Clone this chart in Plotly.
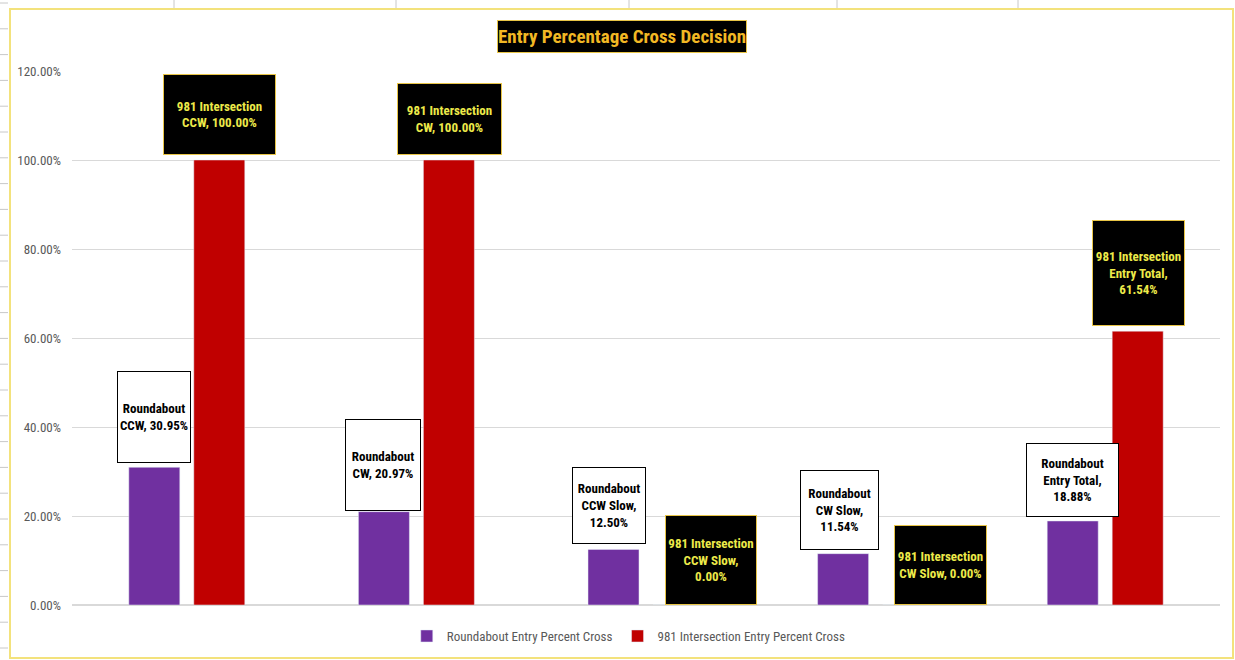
import plotly.graph_objects as go

categories = ["CCW", "CW", "CCW Slow", "CW Slow", "Entry Total"]
roundabout = [0.3095, 0.2097, 0.1250, 0.1154, 0.1888]
intersection = [1.00, 1.00, 0.00, 0.00, 0.6154]
series_names = ["Roundabout Entry Percent Cross", "981 Intersection Entry Percent Cross"]
rb_labels = ["Roundabout<br>CCW, 30.95%", "Roundabout<br>CW, 20.97%", "Roundabout<br>CCW Slow,<br>12.50%",
             "Roundabout<br>CW Slow,<br>11.54%", "Roundabout<br>Entry Total,<br>18.88%"]
ix_labels = ["981 Intersection<br>CCW, 100.00%", "981 Intersection<br>CW, 100.00%",
             "981 Intersection<br>CCW Slow,<br>0.00%", "981 Intersection<br>CW Slow, 0.00%",
             "981 Intersection<br>Entry Total,<br>61.54%"]
y_ticks = [0, 0.2, 0.4, 0.6, 0.8, 1.0, 1.2]

# label box styling/offsets (pixels)
rb_box = [(-33, 4, 74, 92), (-33, 1, 76, 92), (-37, 5, 74, 77), (-36, 4, 79, 80), (-33, 4, 93, 74)]
ix_box = [(33, 5, 113, 81), (33, 5, 105, 72), (65, 0, 92, 90), (65, 0, 93, 80), (33, 5, 93, 106)]

FONT = "Roboto Condensed, Liberation Sans Narrow, Arial Narrow, Roboto, sans-serif"

fig = go.Figure()
fig.add_trace(go.Bar(x=categories, y=roundabout, name=series_names[0], marker_color="#7030A0"))
fig.add_trace(go.Bar(x=categories, y=intersection, name=series_names[1], marker_color="#C00000"))

annotations = []
for i, c in enumerate(categories):
    xs, ys, w, h = rb_box[i]
    annotations.append(dict(x=c, y=roundabout[i], xref="x", yref="y", text=rb_labels[i], showarrow=False,
                            xanchor="center", yanchor="bottom", xshift=xs, yshift=ys,
                            width=w - 2, height=h - 2, bgcolor="white", bordercolor="#000000", borderwidth=1,
                            borderpad=0, font=dict(family=FONT, size=13, color="black", weight="bold"),
                            align="center", valign="middle"))
    xs, ys, w, h = ix_box[i]
    annotations.append(dict(x=c, y=intersection[i], xref="x", yref="y", text=ix_labels[i], showarrow=False,
                            xanchor="center", yanchor="bottom", xshift=xs, yshift=ys,
                            width=w - 2, height=h - 2, bgcolor="black", bordercolor="#E8C547", borderwidth=1,
                            borderpad=0, font=dict(family=FONT, size=13, color="#EDEA4A", weight="bold"),
                            align="center", valign="middle"))

# title
annotations.append(dict(x=(622 - 72) / 1148, y=(605 - 36.5) / 534, xref="paper", yref="paper",
                        text="Entry Percentage Cross Decision", showarrow=False, xanchor="center", yanchor="middle",
                        height=31, bgcolor="black", bordercolor="#E8C547", borderwidth=1, borderpad=0,
                        font=dict(family=FONT, size=19, color="#F2B824", weight="bold")))

def px(xp):
    return (xp - 72) / 1148

def py(yp):
    return (605 - yp) / 534

shapes = [dict(type="rect", xref="paper", yref="paper", x0=px(10), x1=px(1233), y0=py(658), y1=py(9),
               line=dict(color="#F3E27C", width=2), layer="below")]
for k in range(26):
    yp = 3 + k * 25.8
    shapes.append(dict(type="line", xref="paper", yref="paper", x0=px(0), x1=px(8), y0=py(yp), y1=py(yp),
                       line=dict(color="#C8C8C8", width=1)))
for xp in [174, 396, 629, 837, 1018]:
    shapes.append(dict(type="line", xref="paper", yref="paper", x0=px(xp), x1=px(xp), y0=py(0), y1=py(8),
                       line=dict(color="#C8C8C8", width=1)))

fig.update_layout(
    width=1235, height=660,
    margin=dict(l=72, r=15, t=71, b=55, autoexpand=False),
    paper_bgcolor="white", plot_bgcolor="white",
    barmode="group", bargap=0.434, bargroupgap=0.215,
    showlegend=True,
    legend=dict(orientation="h", x=0.485, xanchor="center", y=-0.03, yanchor="top",
                font=dict(family=FONT, size=13, color="#595959"), itemwidth=30, tracegroupgap=0),
    annotations=annotations, shapes=shapes,
    font=dict(family=FONT),
)
fig.update_xaxes(showticklabels=False, showgrid=False, showline=False, zeroline=False)
fig.update_yaxes(range=[0, 1.2], tickvals=y_ticks, tickformat=".2%", showgrid=True, gridcolor="#D9D9D9",
                 gridwidth=1, zeroline=True, zerolinecolor="#D9D9D9", showline=False,
                 tickfont=dict(family=FONT, size=13, color="#595959"), ticklabelstandoff=10)

fig.write_html("out.html")
